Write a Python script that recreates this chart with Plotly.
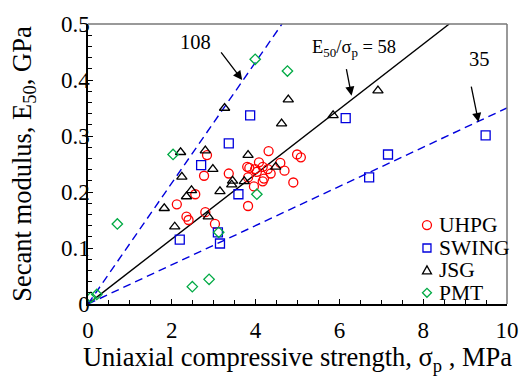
import plotly.graph_objects as go

# UHPG (red circles)
uhpg_x = [2.84, 2.77, 2.56, 2.12, 2.35, 2.40, 2.80, 3.03, 4.31, 4.99, 5.08, 4.08, 3.80, 3.85, 3.99,
          4.17, 4.29, 4.59, 4.69, 3.36, 3.82, 4.03, 4.17, 4.20, 4.90, 3.96, 3.82, 4.36]
uhpg_y = [0.266, 0.229, 0.196, 0.178, 0.156, 0.150, 0.164, 0.143, 0.273, 0.267, 0.262, 0.253, 0.245, 0.243, 0.241,
          0.245, 0.241, 0.252, 0.238, 0.233, 0.226, 0.236, 0.219, 0.224, 0.217, 0.210, 0.175, 0.233]
# SWING (blue squares)
swing_x = [2.19, 2.70, 3.87, 3.36, 3.59, 3.10, 3.15, 6.15, 7.16, 6.71, 9.49]
swing_y = [0.115, 0.248, 0.337, 0.287, 0.196, 0.128, 0.108, 0.332, 0.267, 0.226, 0.301]
# JSG (black triangles)
jsg_x = [2.21, 2.80, 3.26, 4.78, 4.62, 6.92, 5.85, 2.24, 2.47, 2.35, 1.82, 2.07, 2.87, 2.98, 3.82,
         4.48, 3.15, 3.45, 3.43, 3.73]
jsg_y = [0.271, 0.274, 0.350, 0.365, 0.322, 0.381, 0.337, 0.227, 0.203, 0.192, 0.171, 0.138, 0.156, 0.241, 0.266,
         0.245, 0.201, 0.220, 0.213, 0.219]
# PMT (green diamonds)
pmt_x = [2.03, 0.70, 0.07, 0.21, 2.49, 2.89, 3.99, 4.76, 4.03, 3.12]
pmt_y = [0.267, 0.143, 0.012, 0.017, 0.031, 0.044, 0.437, 0.416, 0.196, 0.128]

# Ratio lines E50/sigma_p
ratios = [108, 58, 35]
ratio_styles = [("#0000dd", "8px,5px"), ("black", "solid"), ("#0000dd", "8px,5px")]

x_ticks = [0, 2, 4, 6, 8, 10]
y_ticks = [0, 0.1, 0.2, 0.3, 0.4, 0.5]
y_ticktext = ["0", "0.1", "0.2", "0.3", "0.4", "0.5"]

FONT = "'Liberation Serif', 'Times New Roman', Times, serif"
fig = go.Figure()

for r, (col, dash) in zip(ratios, ratio_styles):
    k = r / 1000.0
    xe = min(10.0, 0.5 / k)
    fig.add_trace(go.Scatter(x=[0, xe], y=[0, k * xe], mode="lines",
                             line=dict(color=col, width=1.4, dash=dash),
                             showlegend=False, hoverinfo="skip"))

series = [
    ("UHPG", uhpg_x, uhpg_y, "circle-open", "#ff0000", 9),
    ("SWING", swing_x, swing_y, "square-open", "#0000dd", 9),
    ("JSG", jsg_x, jsg_y, "triangle-up-open", "black", 9),
    ("PMT", pmt_x, pmt_y, "diamond-open", "#00aa44", 8),
]
for name, xs, ys, sym, col, sz in series:
    fig.add_trace(go.Scatter(x=xs, y=ys, mode="markers", name=name, showlegend=False,
                             marker=dict(symbol=sym, size=sz, color=col,
                                         line=dict(color=col, width=1.3))))

# frame top/right in gray
fig.add_shape(type="line", xref="paper", yref="paper", x0=0, x1=1, y0=1, y1=1,
              line=dict(color="#777777", width=1.5))
fig.add_shape(type="line", xref="paper", yref="paper", x0=1, x1=1, y0=0, y1=1,
              line=dict(color="#777777", width=1.5))

# custom compact legend (keys drawn as pixel-sized shapes)
leg_x = 0.809
leg_tx = 0.834
leg_y = [0.282, 0.200, 0.120, 0.040]
key_paths = {
    "square": "M -4 -4 L 4 -4 L 4 4 L -4 4 Z",
    "triangle": "M -4.5 -3.5 L 4.5 -3.5 L 0 4.5 Z",
    "diamond": "M 0 -4.5 L 4.5 0 L 0 4.5 L -4.5 0 Z",
}
key_kinds = ["circle", "square", "triangle", "diamond"]
for (name, _, _, _, col, _), kind, ly in zip(series, key_kinds, leg_y):
    common = dict(xref="paper", yref="paper", xsizemode="pixel", ysizemode="pixel",
                  xanchor=leg_x, yanchor=ly, line=dict(color=col, width=1.3),
                  fillcolor="rgba(0,0,0,0)")
    if kind == "circle":
        fig.add_shape(type="circle", x0=-4.5, x1=4.5, y0=-4.5, y1=4.5, **common)
    else:
        fig.add_shape(type="path", path=key_paths[kind], **common)
    fig.add_annotation(xref="paper", yref="paper", x=leg_tx, y=ly, xanchor="left", yanchor="middle",
                       text=name, showarrow=False,
                       font=dict(family=FONT, size=21.5, color="black"))

arrow = dict(text="", showarrow=True, arrowhead=2, arrowsize=1.4, arrowwidth=1.3,
             arrowcolor="black", axref="x", ayref="y")
fig.add_annotation(x=3.68, y=0.400, ax=3.15, ay=0.452, **arrow)
fig.add_annotation(x=6.29, y=0.372, ax=6.16, ay=0.422, **arrow)
fig.add_annotation(x=9.32, y=0.325, ax=9.14, ay=0.391, **arrow)

fig.add_annotation(x=2.56, y=0.468, text="108", showarrow=False,
                   font=dict(family=FONT, size=20.5, color="black"))
fig.add_annotation(x=6.34, y=0.457, text="E<sub>50</sub>/σ<sub>p</sub> = 58", showarrow=False,
                   font=dict(family=FONT, size=18.5, color="black"))
fig.add_annotation(x=9.34, y=0.437, text="35", showarrow=False,
                   font=dict(family=FONT, size=20.5, color="black"))

axis_common = dict(showgrid=False, zeroline=False, showline=True, linecolor="black", linewidth=1.5,
                   ticks="inside", ticklen=5, tickwidth=1, tickcolor="black",
                   tickfont=dict(family=FONT, size=23, color="black"),
                   minor=dict(ticks="inside", ticklen=4, tickwidth=1, tickcolor="black"))

fig.update_xaxes(range=[0, 10], tickvals=x_ticks, ticktext=[str(v) for v in x_ticks],
                 minor_dtick=0.5, ticklabelstandoff=5,
                 title=dict(text="Uniaxial compressive strength, σ<sub>p</sub> , MPa",
                            font=dict(family=FONT, size=26.5, color="black"), standoff=2),
                 **axis_common)
fig.update_yaxes(range=[0, 0.5], tickvals=y_ticks, ticktext=y_ticktext,
                 minor_dtick=0.02, minor_tick0=0, ticklabelstandoff=-8,
                 title=dict(text="Secant modulus, E<sub>50</sub>, GPa",
                            font=dict(family=FONT, size=26.5, color="black"), standoff=22),
                 **axis_common)

fig.update_layout(width=531, height=376, margin=dict(l=88, r=13, t=20, b=70),
                  plot_bgcolor="white", paper_bgcolor="white",
                  font=dict(family=FONT, color="black"), showlegend=False)

fig.write_html("out.html")
